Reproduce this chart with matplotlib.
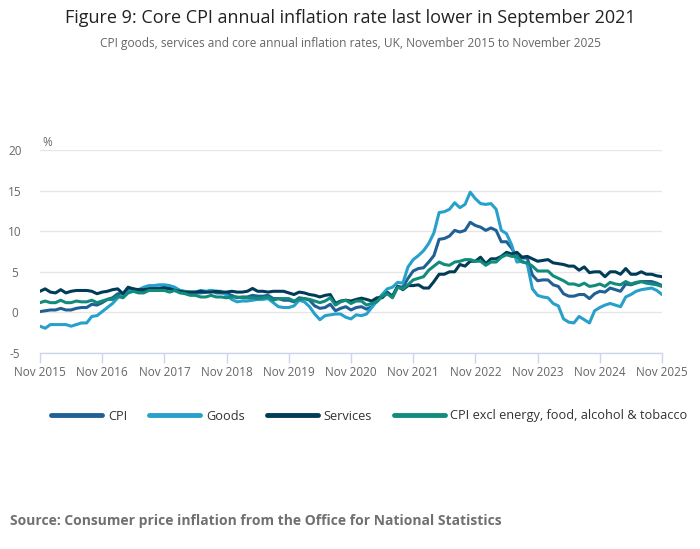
import matplotlib
matplotlib.use("Agg")
import matplotlib.pyplot as plt
import numpy as np

plt.rcParams['font.family'] = ['Open Sans', 'DejaVu Sans']

# ---- data (Nov 2015 .. Nov 2025, monthly) ----
tick_labels = ["Nov 2015", "Nov 2016", "Nov 2017", "Nov 2018", "Nov 2019", "Nov 2020",
               "Nov 2021", "Nov 2022", "Nov 2023", "Nov 2024", "Nov 2025"]

cpi = [0.1, 0.2,
       0.3, 0.3, 0.5, 0.3, 0.3, 0.5, 0.6, 0.6, 1.0, 0.9, 1.2, 1.6,
       1.8, 2.3, 2.3, 2.7, 2.9, 2.6, 2.6, 2.9, 3.0, 3.0, 3.1, 3.0,
       3.0, 2.7, 2.5, 2.4, 2.4, 2.4, 2.5, 2.7, 2.4, 2.4, 2.3, 2.1,
       1.8, 1.9, 1.9, 2.1, 2.0, 2.0, 2.1, 1.7, 1.7, 1.5, 1.5, 1.3,
       1.8, 1.7, 1.5, 0.8, 0.5, 0.6, 1.0, 0.2, 0.5, 0.7, 0.3, 0.6,
       0.7, 0.4, 0.7, 1.5, 2.1, 2.5, 2.0, 3.2, 3.1, 4.2, 5.1, 5.4,
       5.5, 6.2, 7.0, 9.0, 9.1, 9.4, 10.1, 9.9, 10.1, 11.1, 10.7, 10.5,
       10.1, 10.4, 10.1, 8.7, 8.7, 7.9, 6.8, 6.7, 6.7, 4.6, 3.9, 4.0,
       4.0, 3.4, 3.2, 2.3, 2.0, 2.0, 2.2, 2.2, 1.7, 2.3, 2.6, 2.5,
       3.0, 2.8, 2.6, 3.5, 3.4, 3.6, 3.8, 3.8, 3.8, 3.6, 3.3]

goods = [-1.7, -1.95,
         -1.5, -1.5, -1.5, -1.5, -1.7, -1.5, -1.3, -1.3, -0.5, -0.4, 0.1, 0.6,
         1.1, 1.8, 2.2, 2.5, 2.8, 2.8, 3.1, 3.3, 3.3, 3.4, 3.4, 3.3,
         3.1, 2.7, 2.6, 2.5, 2.5, 2.7, 2.6, 2.7, 2.6, 2.6, 2.1, 1.6,
         1.3, 1.4, 1.4, 1.5, 1.6, 1.6, 1.7, 1.2, 0.7, 0.6, 0.6, 0.8,
         1.5, 1.3, 0.7, -0.2, -0.9, -0.4, -0.3, -0.2, -0.2, -0.6, -0.8, -0.3,
         -0.4, -0.2, 0.6, 1.4, 2.2, 2.9, 3.1, 3.7, 3.6, 5.6, 6.5, 7.0,
         7.6, 8.5, 9.8, 12.3, 12.4, 12.7, 13.5, 12.9, 13.3, 14.8, 14.0, 13.4,
         13.3, 13.4, 12.7, 10.1, 9.7, 8.3, 6.2, 6.3, 6.0, 2.9, 2.1, 1.9,
         1.8, 1.1, 0.8, -0.8, -1.2, -1.3, -0.5, -0.9, -1.3, 0.2, 0.6, 0.9,
         1.1, 0.9, 0.7, 1.9, 2.2, 2.6, 2.8, 2.9, 3.0, 2.7, 2.2]

services = [2.6, 2.9,
            2.5, 2.4, 2.8, 2.4, 2.6, 2.7, 2.7, 2.7, 2.6, 2.3, 2.5, 2.6,
            2.8, 2.9, 2.3, 3.1, 2.9, 2.8, 2.8, 2.9, 2.9, 2.9, 3.0, 2.9,
            2.7, 2.6, 2.5, 2.5, 2.5, 2.6, 2.5, 2.5, 2.6, 2.5, 2.5, 2.6,
            2.5, 2.5, 2.6, 2.95, 2.6, 2.6, 2.5, 2.6, 2.6, 2.6, 2.4, 2.2,
            2.5, 2.4, 2.2, 2.1, 1.9, 2.1, 2.2, 1.1, 1.4, 1.5, 1.4, 1.6,
            1.75, 1.6, 1.4, 1.8, 1.8, 2.4, 1.9, 3.2, 2.8, 3.3, 3.3, 3.4,
            3.0, 3.0, 3.8, 4.7, 4.7, 5.0, 5.0, 5.9, 5.7, 6.3, 6.3, 6.8,
            6.0, 6.6, 6.6, 6.9, 7.4, 7.2, 7.4, 6.8, 6.9, 6.6, 6.3, 6.4,
            6.5, 6.1, 6.0, 5.9, 5.7, 5.7, 5.2, 5.6, 4.9, 5.0, 5.0, 4.4,
            5.0, 5.0, 4.7, 5.4, 4.7, 4.7, 5.0, 4.7, 4.7, 4.5, 4.4]

core = [1.2, 1.4,
        1.2, 1.2, 1.5, 1.2, 1.2, 1.4, 1.3, 1.3, 1.5, 1.2, 1.4, 1.6,
        1.6, 2.0, 1.8, 2.4, 2.6, 2.4, 2.4, 2.7, 2.7, 2.7, 2.7, 2.5,
        2.7, 2.4, 2.3, 2.1, 2.1, 1.9, 1.9, 2.1, 1.9, 1.9, 1.8, 1.9,
        1.9, 1.8, 1.8, 1.8, 1.7, 1.8, 1.9, 1.5, 1.7, 1.7, 1.7, 1.4,
        1.6, 1.7, 1.6, 1.4, 1.2, 1.4, 1.8, 0.9, 1.3, 1.5, 1.1, 1.4,
        1.4, 0.9, 1.1, 1.3, 2.0, 2.3, 1.8, 3.1, 2.9, 3.4, 4.0, 4.2,
        4.4, 5.2, 5.7, 6.2, 5.9, 5.8, 6.2, 6.3, 6.5, 6.5, 6.3, 6.3,
        5.8, 6.2, 6.2, 6.8, 7.1, 6.9, 6.9, 6.2, 6.1, 5.7, 5.1, 5.1,
        5.1, 4.5, 4.2, 3.9, 3.5, 3.5, 3.3, 3.6, 3.2, 3.3, 3.5, 3.2,
        3.7, 3.5, 3.4, 3.8, 3.5, 3.7, 3.8, 3.6, 3.5, 3.4, 3.2]

series_names = ["CPI", "Goods", "Services", "CPI excl energy, food, alcohol & tobacco"]
series_colors = ["#206095", "#27a0cc", "#003c57", "#118c7b"]

x = np.arange(len(cpi))

W, H = 700, 549
fig = plt.figure(figsize=(W / 100, H / 100), dpi=100)
ax = fig.add_axes([40 / W, 1 - 353 / H, 622 / W, 203 / H])

for vals, name, col in zip([cpi, goods, services, core], series_names, series_colors):
    ax.plot(x, vals, color=col, lw=2.2, label=name, solid_joinstyle='round', solid_capstyle='round')

ax.set_xlim(0, len(cpi) - 1)
ax.set_ylim(-5, 20)
ax.set_yticks([-5, 0, 5, 10, 15, 20])
ax.set_yticklabels(["-5", "0", "5", "10", "15", "20"])
ax.set_xticks(np.arange(0, len(cpi), 12))
ax.set_xticklabels(tick_labels)

ax.grid(axis='y', color='#e6e6e6', lw=1)
ax.set_axisbelow(True)
for s in ['top', 'right', 'left']:
    ax.spines[s].set_visible(False)
ax.spines['bottom'].set_color('#ccd6eb')
ax.spines['bottom'].set_linewidth(1)

ax.tick_params(axis='y', length=0, pad=18, labelsize=8.5, labelcolor='#666666')
for lab in ax.get_yticklabels():
    lab.set_horizontalalignment('center')
ax.tick_params(axis='x', length=7, width=1, color='#ccd6eb', labelsize=8.5, labelcolor='#666666', pad=2)

fig.text(42 / W, 1 - 142 / H, "%", fontsize=8.5, color='#666666', ha='left', va='center')

fig.text(0.5, 1 - 18 / H, "Figure 9: Core CPI annual inflation rate last lower in September 2021",
         ha='center', va='center', fontsize=13, color='#222222')
fig.text(0.5, 1 - 44 / H, "CPI goods, services and core annual inflation rates, UK, November 2015 to November 2025",
         ha='center', va='center', fontsize=8.6, color='#666666')

leg = fig.legend(loc='center', bbox_to_anchor=((49 + 690) / 2 / W, 1 - 416 / H), ncol=4, frameon=False,
                 fontsize=9.2, handlelength=4.0, columnspacing=1.7, handletextpad=0.45,
                 borderaxespad=0, borderpad=0)
for t in leg.get_texts():
    t.set_color('#333333')
for l in leg.get_lines():
    l.set_linewidth(3.5)

fig.text(10 / W, 1 - 521 / H, "Source: Consumer price inflation from the Office for National Statistics",
         ha='left', va='center', fontsize=10, fontweight='bold', color='#707070')

fig.savefig("out.png", dpi=100)
